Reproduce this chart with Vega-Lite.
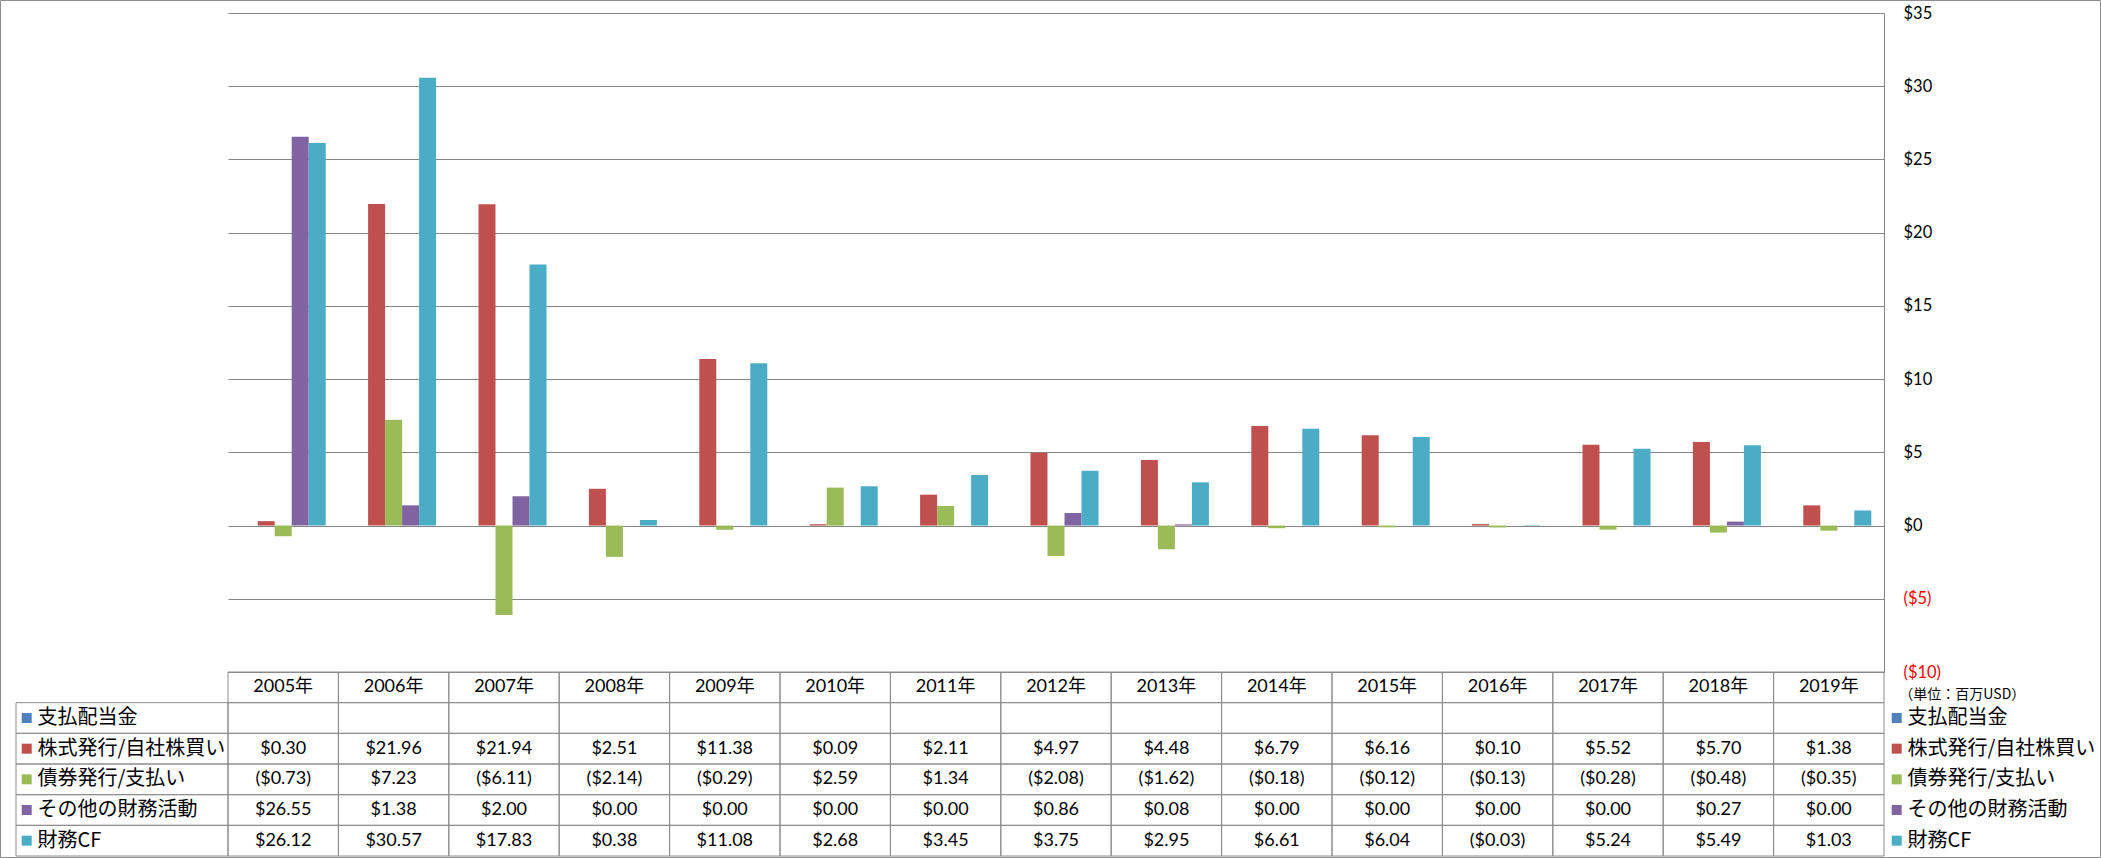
{
  "$schema": "https://vega.github.io/schema/vega-lite/v6.json",
  "autosize": {"type": "none"},
  "padding": {"left": 228, "top": 13, "right": 217, "bottom": 2},
  "width": 1656,
  "height": 843,
  "background": "white",
  "config": {"view": {"stroke": null}, "font": "Lato, Noto Sans CJK JP"},
  "datasets": {
    "vals": [
      {"year": "2005年", "series": "支払配当金", "value": null},
      {"year": "2005年", "series": "株式発行/自社株買い", "value": 0.30},
      {"year": "2005年", "series": "債券発行/支払い", "value": -0.73},
      {"year": "2005年", "series": "その他の財務活動", "value": 26.55},
      {"year": "2005年", "series": "財務CF", "value": 26.12},
      {"year": "2006年", "series": "支払配当金", "value": null},
      {"year": "2006年", "series": "株式発行/自社株買い", "value": 21.96},
      {"year": "2006年", "series": "債券発行/支払い", "value": 7.23},
      {"year": "2006年", "series": "その他の財務活動", "value": 1.38},
      {"year": "2006年", "series": "財務CF", "value": 30.57},
      {"year": "2007年", "series": "支払配当金", "value": null},
      {"year": "2007年", "series": "株式発行/自社株買い", "value": 21.94},
      {"year": "2007年", "series": "債券発行/支払い", "value": -6.11},
      {"year": "2007年", "series": "その他の財務活動", "value": 2.00},
      {"year": "2007年", "series": "財務CF", "value": 17.83},
      {"year": "2008年", "series": "支払配当金", "value": null},
      {"year": "2008年", "series": "株式発行/自社株買い", "value": 2.51},
      {"year": "2008年", "series": "債券発行/支払い", "value": -2.14},
      {"year": "2008年", "series": "その他の財務活動", "value": 0.00},
      {"year": "2008年", "series": "財務CF", "value": 0.38},
      {"year": "2009年", "series": "支払配当金", "value": null},
      {"year": "2009年", "series": "株式発行/自社株買い", "value": 11.38},
      {"year": "2009年", "series": "債券発行/支払い", "value": -0.29},
      {"year": "2009年", "series": "その他の財務活動", "value": 0.00},
      {"year": "2009年", "series": "財務CF", "value": 11.08},
      {"year": "2010年", "series": "支払配当金", "value": null},
      {"year": "2010年", "series": "株式発行/自社株買い", "value": 0.09},
      {"year": "2010年", "series": "債券発行/支払い", "value": 2.59},
      {"year": "2010年", "series": "その他の財務活動", "value": 0.00},
      {"year": "2010年", "series": "財務CF", "value": 2.68},
      {"year": "2011年", "series": "支払配当金", "value": null},
      {"year": "2011年", "series": "株式発行/自社株買い", "value": 2.11},
      {"year": "2011年", "series": "債券発行/支払い", "value": 1.34},
      {"year": "2011年", "series": "その他の財務活動", "value": 0.00},
      {"year": "2011年", "series": "財務CF", "value": 3.45},
      {"year": "2012年", "series": "支払配当金", "value": null},
      {"year": "2012年", "series": "株式発行/自社株買い", "value": 4.97},
      {"year": "2012年", "series": "債券発行/支払い", "value": -2.08},
      {"year": "2012年", "series": "その他の財務活動", "value": 0.86},
      {"year": "2012年", "series": "財務CF", "value": 3.75},
      {"year": "2013年", "series": "支払配当金", "value": null},
      {"year": "2013年", "series": "株式発行/自社株買い", "value": 4.48},
      {"year": "2013年", "series": "債券発行/支払い", "value": -1.62},
      {"year": "2013年", "series": "その他の財務活動", "value": 0.08},
      {"year": "2013年", "series": "財務CF", "value": 2.95},
      {"year": "2014年", "series": "支払配当金", "value": null},
      {"year": "2014年", "series": "株式発行/自社株買い", "value": 6.79},
      {"year": "2014年", "series": "債券発行/支払い", "value": -0.18},
      {"year": "2014年", "series": "その他の財務活動", "value": 0.00},
      {"year": "2014年", "series": "財務CF", "value": 6.61},
      {"year": "2015年", "series": "支払配当金", "value": null},
      {"year": "2015年", "series": "株式発行/自社株買い", "value": 6.16},
      {"year": "2015年", "series": "債券発行/支払い", "value": -0.12},
      {"year": "2015年", "series": "その他の財務活動", "value": 0.00},
      {"year": "2015年", "series": "財務CF", "value": 6.04},
      {"year": "2016年", "series": "支払配当金", "value": null},
      {"year": "2016年", "series": "株式発行/自社株買い", "value": 0.10},
      {"year": "2016年", "series": "債券発行/支払い", "value": -0.13},
      {"year": "2016年", "series": "その他の財務活動", "value": 0.00},
      {"year": "2016年", "series": "財務CF", "value": -0.03},
      {"year": "2017年", "series": "支払配当金", "value": null},
      {"year": "2017年", "series": "株式発行/自社株買い", "value": 5.52},
      {"year": "2017年", "series": "債券発行/支払い", "value": -0.28},
      {"year": "2017年", "series": "その他の財務活動", "value": 0.00},
      {"year": "2017年", "series": "財務CF", "value": 5.24},
      {"year": "2018年", "series": "支払配当金", "value": null},
      {"year": "2018年", "series": "株式発行/自社株買い", "value": 5.70},
      {"year": "2018年", "series": "債券発行/支払い", "value": -0.48},
      {"year": "2018年", "series": "その他の財務活動", "value": 0.27},
      {"year": "2018年", "series": "財務CF", "value": 5.49},
      {"year": "2019年", "series": "支払配当金", "value": null},
      {"year": "2019年", "series": "株式発行/自社株買い", "value": 1.38},
      {"year": "2019年", "series": "債券発行/支払い", "value": -0.35},
      {"year": "2019年", "series": "その他の財務活動", "value": 0.00},
      {"year": "2019年", "series": "財務CF", "value": 1.03}
    ],
    "years": [
      {"year": "2005年"}, {"year": "2006年"}, {"year": "2007年"}, {"year": "2008年"}, {"year": "2009年"},
      {"year": "2010年"}, {"year": "2011年"}, {"year": "2012年"}, {"year": "2013年"}, {"year": "2014年"},
      {"year": "2015年"}, {"year": "2016年"}, {"year": "2017年"}, {"year": "2018年"}, {"year": "2019年"}
    ],
    "labels": [
      {"series": "支払配当金", "side": "table"},
      {"series": "株式発行/自社株買い", "side": "table"},
      {"series": "債券発行/支払い", "side": "table"},
      {"series": "その他の財務活動", "side": "table"},
      {"series": "財務CF", "side": "table"},
      {"series": "支払配当金", "side": "legend"},
      {"series": "株式発行/自社株買い", "side": "legend"},
      {"series": "債券発行/支払い", "side": "legend"},
      {"series": "その他の財務活動", "side": "legend"},
      {"series": "財務CF", "side": "legend"}
    ],
    "frame": [{"k": "frame"}]
  },
  "layer": [
    {
      "data": {"name": "frame"},
      "mark": {"type": "rect", "fill": "white", "fillOpacity": 0, "stroke": "#8c8c8c", "strokeWidth": 1},
      "encoding": {
        "x": {"field": "k", "type": "nominal", "axis": null, "scale": {"type": "band", "domain": ["frame"], "range": [-227.5, 1872.5], "paddingInner": 0, "paddingOuter": 0}},
        "y": {"field": "k", "type": "nominal", "axis": null, "scale": {"type": "band", "domain": ["frame"], "range": [-12.5, 844.5], "paddingInner": 0, "paddingOuter": 0}}
      }
    },
    {
      "data": {"name": "vals"},
      "mark": {"type": "bar"},
      "encoding": {
        "x": {"field": "year", "type": "nominal", "axis": null, "sort": null, "scale": {"type": "band", "paddingInner": 0.23, "paddingOuter": 0.115}},
        "xOffset": {"field": "series", "type": "nominal", "sort": null, "scale": {"domain": ["支払配当金", "株式発行/自社株買い", "債券発行/支払い", "その他の財務活動", "財務CF"], "paddingInner": 0, "paddingOuter": 0}},
        "y": {
          "field": "value", "type": "quantitative",
          "scale": {"domain": [-10, 35], "range": [659, 0], "nice": false},
          "axis": {
            "orient": "right", "title": null, "values": [-10, -5, 0, 5, 10, 15, 20, 25, 30, 35],
            "grid": true, "gridColor": "#868686", "gridWidth": 1,
            "domain": true, "domainColor": "#868686", "ticks": false,
            "labelPadding": 19, "labelFontSize": 16.5, "labelFont": "Lato", "labelFontWeight": "normal",
            "labelExpr": "datum.value < 0 ? '($' + abs(datum.value) + ')' : '$' + datum.value",
            "labelColor": {"condition": {"test": "datum.value < 0", "value": "#FF0000"}, "value": "#000000"}
          }
        },
        "color": {
          "field": "series", "type": "nominal", "legend": null,
          "scale": {"domain": ["支払配当金", "株式発行/自社株買い", "債券発行/支払い", "その他の財務活動", "財務CF"], "range": ["#4F81BD", "#C0504D", "#9BBB59", "#8064A2", "#4BACC6"]}
        }
      }
    },
    {
      "data": {"name": "vals"},
      "mark": {"type": "rect", "fill": "white", "fillOpacity": 0, "stroke": "#8c8c8c", "strokeWidth": 1},
      "encoding": {
        "x": {"field": "year", "type": "nominal", "axis": null, "sort": null, "scale": {"type": "band", "paddingInner": 0, "paddingOuter": 0}},
        "y": {"field": "series", "type": "nominal", "axis": null, "scale": {"type": "band", "domain": ["header", "支払配当金", "株式発行/自社株買い", "債券発行/支払い", "その他の財務活動", "財務CF"], "range": [659, 843], "paddingInner": 0, "paddingOuter": 0}}
      }
    },
    {
      "data": {"name": "years"},
      "mark": {"type": "rect", "fill": "white", "fillOpacity": 0, "stroke": "#8c8c8c", "strokeWidth": 1},
      "encoding": {
        "x": {"field": "year", "type": "nominal", "axis": null, "sort": null, "scale": {"type": "band", "paddingInner": 0, "paddingOuter": 0}},
        "y": {"datum": "header", "type": "nominal", "axis": null, "scale": {"type": "band", "domain": ["header", "支払配当金", "株式発行/自社株買い", "債券発行/支払い", "その他の財務活動", "財務CF"], "range": [659, 843], "paddingInner": 0, "paddingOuter": 0}}
      }
    },
    {
      "data": {"name": "years"},
      "mark": {"type": "text", "fontSize": 18, "font": "Lato, Noto Sans CJK JP", "align": "center", "baseline": "middle", "color": "#000000"},
      "encoding": {
        "x": {"field": "year", "type": "nominal", "axis": null, "sort": null, "scale": {"type": "band", "paddingInner": 0, "paddingOuter": 0}},
        "y": {"datum": "header", "type": "nominal", "axis": null, "scale": {"type": "band", "domain": ["header", "支払配当金", "株式発行/自社株買い", "債券発行/支払い", "その他の財務活動", "財務CF"], "range": [659, 843], "paddingInner": 0, "paddingOuter": 0}},
        "text": {"field": "year", "type": "nominal"}
      }
    },
    {
      "data": {"name": "vals"},
      "transform": [{"filter": "isValid(datum.value)"}],
      "mark": {"type": "text", "fontSize": 18, "font": "Lato", "align": "center", "baseline": "middle", "color": "#000000"},
      "encoding": {
        "x": {"field": "year", "type": "nominal", "axis": null, "sort": null, "scale": {"type": "band", "domain": ["2005年", "2006年", "2007年", "2008年", "2009年", "2010年", "2011年", "2012年", "2013年", "2014年", "2015年", "2016年", "2017年", "2018年", "2019年"], "paddingInner": 0, "paddingOuter": 0}},
        "y": {"field": "series", "type": "nominal", "axis": null, "scale": {"type": "band", "domain": ["header", "支払配当金", "株式発行/自社株買い", "債券発行/支払い", "その他の財務活動", "財務CF"], "range": [659, 843], "paddingInner": 0, "paddingOuter": 0}},
        "text": {"field": "value", "type": "quantitative", "format": "($.2f"}
      }
    },
    {
      "data": {"name": "labels"},
      "transform": [{"filter": "datum.side === 'table'"}],
      "mark": {"type": "rect", "fill": "white", "fillOpacity": 0, "stroke": "#8c8c8c", "strokeWidth": 1},
      "encoding": {
        "x": {"field": "side", "type": "nominal", "axis": null, "scale": {"type": "band", "domain": ["table", "legend"], "range": [-212, 1870], "paddingInner": 0.88663, "paddingOuter": 0}},
        "y": {"field": "series", "type": "nominal", "axis": null, "scale": {"type": "band", "domain": ["header", "支払配当金", "株式発行/自社株買い", "債券発行/支払い", "その他の財務活動", "財務CF"], "range": [659, 843], "paddingInner": 0, "paddingOuter": 0}}
      }
    },
    {
      "data": {"name": "labels"},
      "mark": {"type": "point", "shape": "square", "size": 100, "filled": true, "opacity": 1},
      "encoding": {
        "x": {"field": "side", "type": "nominal", "axis": null, "bandPosition": 0.0505, "scale": {"type": "band", "domain": ["table", "legend"], "range": [-212, 1870], "paddingInner": 0.88663, "paddingOuter": 0}},
        "y": {"field": "series", "type": "nominal", "axis": null, "scale": {"type": "band", "domain": ["header", "支払配当金", "株式発行/自社株買い", "債券発行/支払い", "その他の財務活動", "財務CF"], "range": [659, 843], "paddingInner": 0, "paddingOuter": 0}},
        "color": {
          "field": "series", "type": "nominal", "legend": null,
          "scale": {"domain": ["支払配当金", "株式発行/自社株買い", "債券発行/支払い", "その他の財務活動", "財務CF"], "range": ["#4F81BD", "#C0504D", "#9BBB59", "#8064A2", "#4BACC6"]}
        }
      }
    },
    {
      "data": {"name": "labels"},
      "mark": {"type": "text", "fontSize": 20, "font": "Noto Sans CJK JP", "align": "left", "baseline": "middle", "color": "#000000"},
      "encoding": {
        "x": {"field": "side", "type": "nominal", "axis": null, "bandPosition": 0.101, "scale": {"type": "band", "domain": ["table", "legend"], "range": [-212, 1870], "paddingInner": 0.88663, "paddingOuter": 0}},
        "y": {"field": "series", "type": "nominal", "axis": null, "scale": {"type": "band", "domain": ["header", "支払配当金", "株式発行/自社株買い", "債券発行/支払い", "その他の財務活動", "財務CF"], "range": [659, 843], "paddingInner": 0, "paddingOuter": 0}},
        "text": {"field": "series", "type": "nominal"}
      }
    },
    {
      "data": {"name": "frame"},
      "mark": {"type": "text", "text": "（単位：百万USD）", "fontSize": 14, "font": "Noto Sans CJK JP", "align": "left", "baseline": "middle", "color": "#000000"},
      "encoding": {
        "x": {"datum": "legend", "type": "nominal", "axis": null, "bandPosition": 0.063, "scale": {"type": "band", "domain": ["table", "legend"], "range": [-212, 1870], "paddingInner": 0.88663, "paddingOuter": 0}},
        "y": {"datum": "header", "type": "nominal", "axis": null, "bandPosition": 0.75, "scale": {"type": "band", "domain": ["header", "支払配当金", "株式発行/自社株買い", "債券発行/支払い", "その他の財務活動", "財務CF"], "range": [659, 843], "paddingInner": 0, "paddingOuter": 0}}
      }
    }
  ],
  "resolve": {"scale": {"x": "independent", "y": "independent"}}
}
